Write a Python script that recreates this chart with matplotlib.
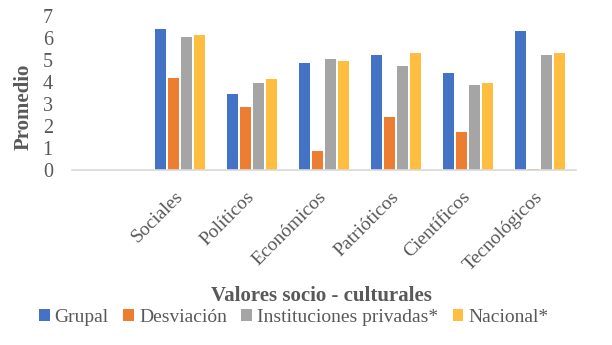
import matplotlib
matplotlib.use("Agg")
import matplotlib.pyplot as plt
import matplotlib.transforms as mtransforms
import numpy as np

categories = ["", "Sociales", "Políticos", "Económicos", "Patrióticos", "Científicos", "Tecnológicos"]
series_names = ["Grupal", "Desviación", "Instituciones privadas*", "Nacional*"]
grupal = [np.nan, 6.41, 3.45, 4.86, 5.23, 4.41, 6.32]
desviacion = [np.nan, 4.18, 2.86, 0.86, 2.41, 1.73, 0.05]
privadas = [np.nan, 6.05, 3.95, 5.05, 4.73, 3.86, 5.23]
nacional = [np.nan, 6.15, 4.14, 4.95, 5.32, 3.95, 5.32]
colors = ["#4472C4", "#ED7D31", "#A5A5A5", "#FFBE40"]
yticks = [0, 1, 2, 3, 4, 5, 6, 7]

plt.rcParams['font.family'] = ['Liberation Serif', 'DejaVu Serif']
txt = "#595959"

fig = plt.figure(figsize=(6.12, 3.45), dpi=100)
ax = fig.add_axes([0.118, 0.507, 0.823, 0.447])

x = np.arange(len(categories))
w = 0.153
step = 0.18
data = [grupal, desviacion, privadas, nacional]
handles = []
for i, (vals, c, n) in enumerate(zip(data, colors, series_names)):
    h = ax.bar(x + (i - 1.5) * step, vals, width=w, color=c, label=n)
    handles.append(h)

ax.set_xlim(-0.5, len(categories) - 0.5)
ax.set_ylim(0, 7)
ax.set_yticks(yticks)
ax.set_yticklabels([str(t) for t in yticks], fontsize=14.5, color=txt)
ax.set_xticks(x)
ax.set_xticklabels(categories, fontsize=14, color=txt, rotation=45, ha='right', va='top', rotation_mode='anchor')
ax.tick_params(axis='both', length=0)
ax.tick_params(axis='x', pad=13)
ax.tick_params(axis='y', pad=14)
offset = mtransforms.ScaledTranslation(-6 / 100, 0, fig.dpi_scale_trans)
for lbl in ax.get_xticklabels():
    lbl.set_transform(lbl.get_transform() + offset)
for s in ['top', 'right', 'left']:
    ax.spines[s].set_visible(False)
ax.spines['bottom'].set_color('#D9D9D9')
ax.spines['bottom'].set_linewidth(1.2)

fig.text(0.038, 0.69, "Promedio", rotation=90, fontsize=15, fontweight='bold', color=txt, ha='center', va='center')
fig.text(0.526, 0.142, "Valores socio - culturales", fontsize=15, fontweight='bold', color=txt, ha='center', va='center')

fig.legend(handles=handles, loc='center', bbox_to_anchor=(0.48, 0.081), ncol=4, frameon=False,
           prop={'family': 'Liberation Serif', 'size': 14}, labelcolor=txt,
           handlelength=0.55, handleheight=0.55, handletextpad=0.25,
           columnspacing=0.75, borderpad=0)

fig.savefig("out.png", dpi=100)
